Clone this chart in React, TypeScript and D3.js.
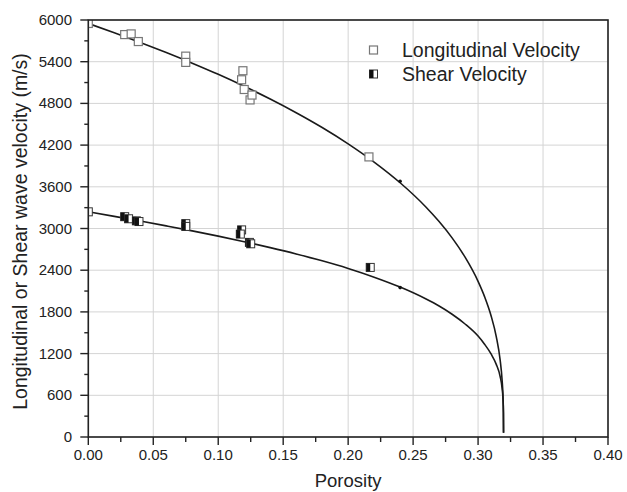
import React from "react";
import * as d3 from "d3";

const W = 627;
const H = 492;

// Measured data points
const longPorosity = [0.0, 0.028, 0.033, 0.0385, 0.075, 0.075, 0.119, 0.118, 0.12, 0.1245, 0.126, 0.216];
const longVelocity = [5950, 5790, 5800, 5690, 5480, 5390, 5270, 5140, 5000, 4850, 4920, 4030];

const shearPorosity = [0.0, 0.028, 0.031, 0.037, 0.039, 0.075, 0.075, 0.118, 0.117, 0.124, 0.125, 0.217];
const shearVelocity = [3240, 3170, 3140, 3110, 3100, 3070, 3030, 2980, 2920, 2800, 2780, 2440];

// Small dots sitting on the curves
const dotPorosity = [0.24, 0.24];
const dotVelocity = [3680, 2150];

// Fitted curves
const longCurvePorosity = [0, 0.02, 0.04, 0.06, 0.08, 0.1, 0.12, 0.14, 0.16, 0.18, 0.2, 0.22, 0.24, 0.26, 0.27, 0.28, 0.29, 0.3, 0.305, 0.31, 0.314, 0.317, 0.3185, 0.3192, 0.3195, 0.3196];
const longCurveVelocity = [5950, 5817, 5678, 5532, 5379, 5218, 5046, 4863, 4666, 4453, 4218, 3956, 3658, 3306, 3100, 2865, 2587, 2240, 2020, 1745, 1445, 1105, 817, 574, 353, 60];

const shearCurvePorosity = [0, 0.02, 0.04, 0.06, 0.08, 0.1, 0.12, 0.14, 0.16, 0.18, 0.2, 0.22, 0.24, 0.26, 0.27, 0.28, 0.29, 0.3, 0.305, 0.31, 0.314, 0.317, 0.3185, 0.3192, 0.3195, 0.3196];
const shearCurveVelocity = [3240, 3175, 3108, 3038, 2966, 2890, 2810, 2725, 2634, 2535, 2425, 2300, 2157, 1985, 1884, 1766, 1626, 1452, 1335, 1195, 1045, 870, 700, 540, 350, 60];

const xTicks = [0, 0.05, 0.1, 0.15, 0.2, 0.25, 0.3, 0.35, 0.4];
const xMinorTicks = [0.025, 0.075, 0.125, 0.175, 0.225, 0.275, 0.325, 0.375];
const yTicks = [0, 600, 1200, 1800, 2400, 3000, 3600, 4200, 4800, 5400, 6000];
const yMinorTicks = [300, 900, 1500, 2100, 2700, 3300, 3900, 4500, 5100, 5700];

const legendLabels = ["Longitudinal Velocity", "Shear Velocity"];
const xTitle = "Porosity";
const yTitle = "Longitudinal or Shear wave velocity (m/s)";

const FONT = "'Liberation Sans', Arial, sans-serif";

export default function App() {
  const left = 88.3;
  const right = 608;
  const top = 20;
  const bottom = 437;

  const x = d3.scaleLinear().domain([0, 0.4]).range([left, right]);
  const y = d3.scaleLinear().domain([0, 6000]).range([bottom, top]);

  const line = d3
    .line<[number, number]>()
    .x((d) => x(d[0]))
    .y((d) => y(d[1]))
    .curve(d3.curveMonotoneX);

  const longCurve = longCurvePorosity.map((p, i) => [p, longCurveVelocity[i]] as [number, number]);
  const shearCurve = shearCurvePorosity.map((p, i) => [p, shearCurveVelocity[i]] as [number, number]);

  const S = 8;

  const ShearMarker = ({ cx, cy }: { cx: number; cy: number }) => (
    <g>
      <rect x={cx - S / 2} y={cy - S / 2} width={S} height={S} fill="#fff" stroke="#333" strokeWidth={1} />
      <rect x={cx - S / 2} y={cy - S / 2} width={S / 2} height={S} fill="#111" />
    </g>
  );
  const LongMarker = ({ cx, cy }: { cx: number; cy: number }) => (
    <rect x={cx - S / 2} y={cy - S / 2} width={S} height={S} fill="#fff" stroke="#777" strokeWidth={1.2} />
  );

  return (
    <svg width={W} height={H} style={{ position: "absolute", left: 0, top: 0, background: "#fff" }} fontFamily={FONT}>
      <defs>
        <clipPath id="plotclip">
          <rect x={left} y={top} width={right - left} height={bottom - top} />
        </clipPath>
      </defs>
      <rect x={0} y={0} width={W} height={H} fill="#fff" />
      {/* gridlines */}
      {xTicks.map((t) => (
        <line key={"gx" + t} x1={x(t)} x2={x(t)} y1={top} y2={bottom} stroke="#d4d4d4" strokeWidth={1} />
      ))}
      {yTicks.map((t) => (
        <line key={"gy" + t} x1={left} x2={right} y1={y(t)} y2={y(t)} stroke="#d4d4d4" strokeWidth={1} />
      ))}

      {/* curves */}
      <path d={line(longCurve) || ""} fill="none" stroke="#1a1a1a" strokeWidth={1.6} />
      <path d={line(shearCurve) || ""} fill="none" stroke="#1a1a1a" strokeWidth={1.6} />
      {dotPorosity.map((p, i) => (
        <circle key={"d" + i} cx={x(p)} cy={y(dotVelocity[i])} r={1.8} fill="#111" />
      ))}

      {/* markers */}
      <g clipPath="url(#plotclip)">
        {longPorosity.map((p, i) => (
          <LongMarker key={"l" + i} cx={x(p)} cy={y(longVelocity[i])} />
        ))}
        {shearPorosity.map((p, i) => (
          <ShearMarker key={"s" + i} cx={x(p)} cy={y(shearVelocity[i])} />
        ))}
      </g>

      {/* frame */}
      <rect x={left} y={top} width={right - left} height={bottom - top} fill="none" stroke="#222" strokeWidth={1.6} />

      {/* x ticks */}
      {xTicks.map((t) => (
        <g key={"xt" + t}>
          <line x1={x(t)} x2={x(t)} y1={bottom} y2={bottom + 8} stroke="#222" strokeWidth={1.4} />
          <text x={x(t)} y={460} textAnchor="middle" fontSize={15} fill="#222">
            {t.toFixed(2)}
          </text>
        </g>
      ))}
      {xMinorTicks.map((t) => (
        <line key={"xm" + t} x1={x(t)} x2={x(t)} y1={bottom} y2={bottom + 5} stroke="#222" strokeWidth={1.4} />
      ))}

      {/* y ticks */}
      {yTicks.map((t) => (
        <g key={"yt" + t}>
          <line x1={left - 8} x2={left} y1={y(t)} y2={y(t)} stroke="#222" strokeWidth={1.4} />
          <text x={72} y={y(t) + 5} textAnchor="end" fontSize={15} fill="#222">
            {t}
          </text>
        </g>
      ))}
      {yMinorTicks.map((t) => (
        <line key={"ym" + t} x1={left - 4} x2={left} y1={y(t)} y2={y(t)} stroke="#222" strokeWidth={1.4} />
      ))}

      {/* axis titles */}
      <text x={(left + right) / 2} y={487} textAnchor="middle" fontSize={18.5} fill="#222">
        {xTitle}
      </text>
      <text
        transform={`translate(27, ${(top + bottom) / 2 + 3}) rotate(-90)`}
        textAnchor="middle"
        fontSize={19.5}
        fill="#222"
      >
        {yTitle}
      </text>

      {/* legend */}
      <LongMarker cx={373.5} cy={50} />
      <text x={402} y={56.5} fontSize={19.5} fill="#222">
        {legendLabels[0]}
      </text>
      <ShearMarker cx={373.5} cy={74} />
      <text x={402} y={81} fontSize={19.5} fill="#222">
        {legendLabels[1]}
      </text>
    </svg>
  );
}
